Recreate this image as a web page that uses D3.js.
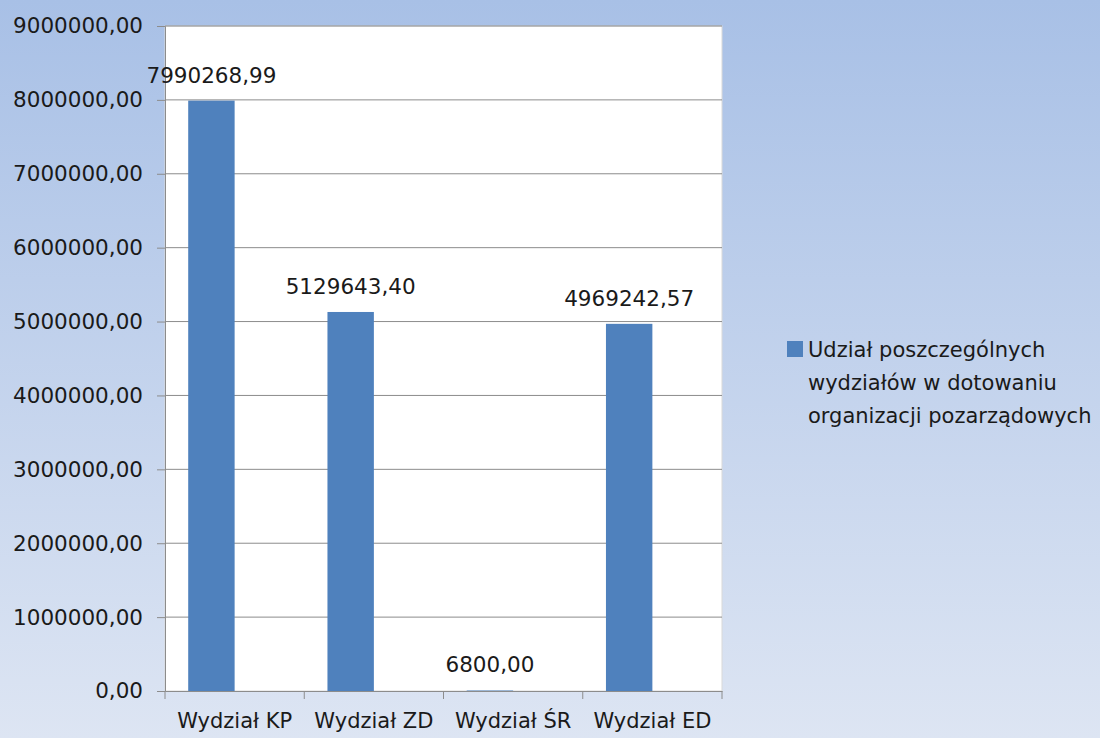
<!DOCTYPE html>
<html>
<head>
<meta charset="utf-8">
<script src="https://cdn.jsdelivr.net/npm/d3@7"></script>
<style>
  body { margin: 0; padding: 0; overflow: hidden; }
  text { font-family: "DejaVu Sans", sans-serif; fill: #1a1a1a; }
</style>
</head>
<body>
<div id="chart"></div>
<script>
// data
var categories = ["Wydział KP", "Wydział ZD", "Wydział ŚR", "Wydział ED"];
var values = [7990268.99, 5129643.40, 6800.00, 4969242.57];
var labels = ["7990268,99", "5129643,40", "6800,00", "4969242,57"];
var yTicks = [0, 1000000, 2000000, 3000000, 4000000, 5000000, 6000000, 7000000, 8000000, 9000000];
var seriesName = ["Udział poszczególnych", "wydziałów w dotowaniu", "organizacji pozarządowych"];

var W = 1100, H = 738;
var margin = { top: 26, right: 378, bottom: 47, left: 165 };
var width = W - margin.left - margin.right,
    height = H - margin.top - margin.bottom;

var svg = d3.select("#chart").append("svg")
    .attr("width", W)
    .attr("height", H);

// background gradient
var grad = svg.append("defs").append("linearGradient")
    .attr("id", "bg").attr("x1", 0).attr("y1", 0).attr("x2", 0).attr("y2", 1);
grad.append("stop").attr("offset", "0%").attr("stop-color", "#a8c0e6");
grad.append("stop").attr("offset", "100%").attr("stop-color", "#dde5f3");
svg.append("rect").attr("width", W).attr("height", H).attr("fill", "url(#bg)");

var g = svg.append("g")
    .attr("transform", "translate(" + margin.left + "," + margin.top + ")");

// plot area
g.append("rect")
    .attr("width", width).attr("height", height)
    .attr("fill", "#ffffff")
    .attr("stroke", "#d9d9d9");

var x = d3.scaleBand().domain(categories).range([0, width]);
var y = d3.scaleLinear().domain([0, 9000000]).range([height, 0]);

// gridlines
g.selectAll(".grid")
    .data(yTicks.slice(1))
    .enter().append("line")
    .attr("x1", 0).attr("x2", width)
    .attr("y1", function (d) { return y(d); })
    .attr("y2", function (d) { return y(d); })
    .attr("stroke", "#8c8c8c").attr("stroke-width", 1);

// y axis
var yAxis = g.append("g")
    .call(d3.axisLeft(y).tickValues(yTicks).tickSize(8).tickPadding(14)
        .tickFormat(function (d) { return d3.format(".2f")(d).replace(".", ","); }));
yAxis.selectAll("text").style("font-size", "21.5px").attr("fill", "#1a1a1a");
yAxis.selectAll("line, path").attr("stroke", "#8c8c8c");

// x axis
var xAxis = g.append("g")
    .attr("transform", "translate(0," + height + ")")
    .call(d3.axisBottom(x).tickSize(0).tickPadding(22));
xAxis.selectAll("text").style("font-size", "21px").attr("fill", "#1a1a1a");
xAxis.select(".domain").attr("stroke", "#8c8c8c");
// category boundary ticks
xAxis.selectAll(".bound")
    .data(categories.concat(["end"]))
    .enter().append("line")
    .attr("x1", function (d, i) { return i < categories.length ? x(d) : width; })
    .attr("x2", function (d, i) { return i < categories.length ? x(d) : width; })
    .attr("y1", 0).attr("y2", 8)
    .attr("stroke", "#8c8c8c");

// bars (first slot of a two-slot cluster)
var bw = x.bandwidth() / 3;
g.selectAll(".bar")
    .data(values)
    .enter().append("rect")
    .attr("x", function (d, i) { return x(categories[i]) + x.bandwidth() / 6; })
    .attr("y", function (d) { return y(d); })
    .attr("width", bw)
    .attr("height", function (d) { return height - y(d); })
    .attr("fill", "#4f81bd");

// data labels
g.selectAll(".lbl")
    .data(values)
    .enter().append("text")
    .attr("x", function (d, i) { return x(categories[i]) + x.bandwidth() / 6 + bw / 2; })
    .attr("y", function (d) { return y(d) - 18; })
    .attr("text-anchor", "middle")
    .style("font-size", "21.5px")
    .text(function (d, i) { return labels[i]; });

// legend
var legend = svg.append("g").attr("transform", "translate(787,341)");
legend.append("rect").attr("width", 16).attr("height", 16).attr("fill", "#4f81bd");
legend.selectAll("text")
    .data(seriesName)
    .enter().append("text")
    .attr("x", 21)
    .attr("y", function (d, i) { return 16 + i * 33; })
    .style("font-size", "21px")
    .text(function (d) { return d; });
</script>
</body>
</html>
